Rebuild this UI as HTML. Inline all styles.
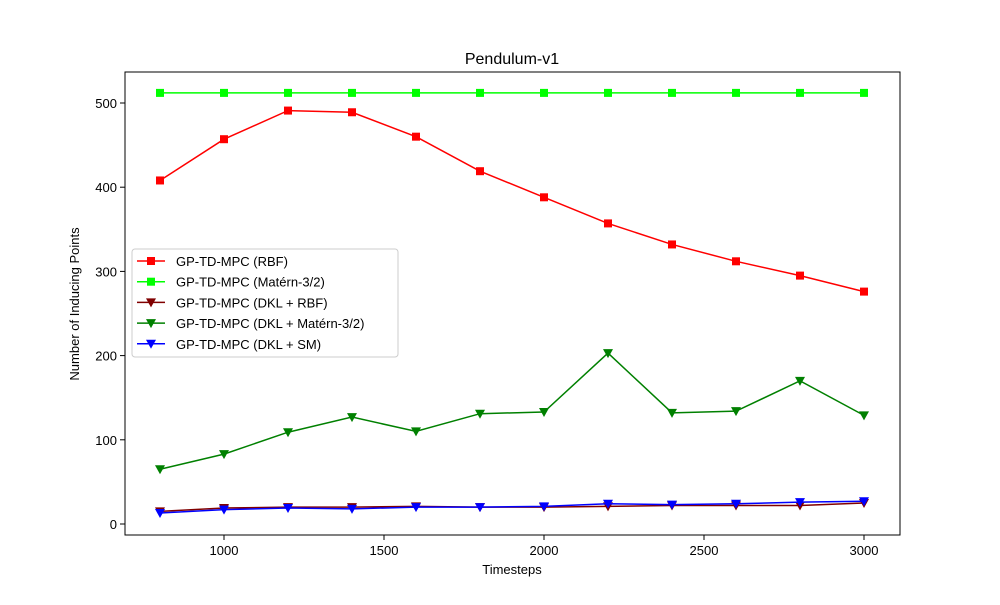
<!DOCTYPE html>
<html><head><meta charset="utf-8"><style>body{margin:0;background:#fff}svg{font-family:"Liberation Sans",sans-serif}</style></head>
<body>
<svg id="c" width="1000" height="600"></svg>
<script>
const xs=[800,1000,1200,1400,1600,1800,2000,2200,2400,2600,2800,3000];
const rbf=[408,457,491,489,460,419,388,357,332,312,295,276];
const matern=[512,512,512,512,512,512,512,512,512,512,512,512];
const dklRbf=[15,19,20,20,21,20,20,21,22,22,22,25];
const dklMatern=[65,83,109,127,110,131,133,203,132,134,170,129];
const dklSm=[13,17,19,18,20,20,21,24,23,24,26,27];
const xTicks=[1000,1500,2000,2500,3000];
const yTicks=[0,100,200,300,400,500];
const names=["GP-TD-MPC (RBF)","GP-TD-MPC (Matérn-3/2)","GP-TD-MPC (DKL + RBF)","GP-TD-MPC (DKL + Matérn-3/2)","GP-TD-MPC (DKL + SM)"];
const NS="http://www.w3.org/2000/svg",svg=document.getElementById('c');
const X=v=>160+(v-800)*0.32, Y=v=>524-v*0.842;
function el(t,a,p){const e=document.createElementNS(NS,t);for(const k in a)e.setAttribute(k,a[k]);(p||svg).appendChild(e);return e;}
let t=el('text',{x:512,y:64,'font-size':16,'text-anchor':'middle'});t.textContent='Pendulum-v1';


xTicks.forEach(v=>{el('line',{x1:X(v),x2:X(v),y1:535,y2:540,stroke:'#000'});const tt=el('text',{x:X(v),y:555,'font-size':13,'text-anchor':'middle'});tt.textContent=v;

});
yTicks.forEach(v=>{el('line',{x1:120,x2:125,y1:Y(v),y2:Y(v),stroke:'#000'});const tt=el('text',{x:117,y:Y(v)+5,'font-size':13,'text-anchor':'end'});tt.textContent=v;

});
t=el('text',{x:512,y:574,'font-size':13,'text-anchor':'middle'});t.textContent='Timesteps';


t=el('text',{x:0,y:0,'font-size':13,'text-anchor':'middle',transform:'translate(79,304) rotate(-90)'});t.textContent='Number of Inducing Points';


const series=[[rbf,'#ff0000','s'],[matern,'#00ff00','s'],[dklRbf,'#800000','v'],[dklMatern,'#008000','v'],[dklSm,'#0000ff','v']];
function marker(x,y,c,m,g){if(m=='s')return el('rect',{x:x-4,y:y-4,width:8,height:8,fill:c},g);return el('path',{d:`M${x-5},${y-4}L${x+5},${y-4}L${x},${y+5}Z`,fill:c},g);}
series.forEach((s,i)=>{const g=el('g',{});
el('polyline',{points:xs.map((x,j)=>X(x)+','+Y(s[0][j])).join(' '),fill:'none',stroke:s[1],'stroke-width':1.5},g);
xs.forEach((x,j)=>marker(X(x),Y(s[0][j]),s[1],s[2],g));});
el('rect',{x:125,y:72,width:775,height:463,fill:'none',stroke:'#000'});
const lg=el('g',{});
el('rect',{x:132,y:249,width:266,height:108,fill:'#fff',stroke:'#ccc',rx:3},lg);
series.forEach((s,i)=>{const y=261+i*20.7;el('line',{x1:137,x2:165,y1:y,y2:y,stroke:s[1],'stroke-width':1.5},lg);marker(151,y,s[1],s[2],lg);
const tt=el('text',{x:176,y:y+5,'font-size':13},lg);tt.textContent=names[i];

});
</script>
</body></html>
